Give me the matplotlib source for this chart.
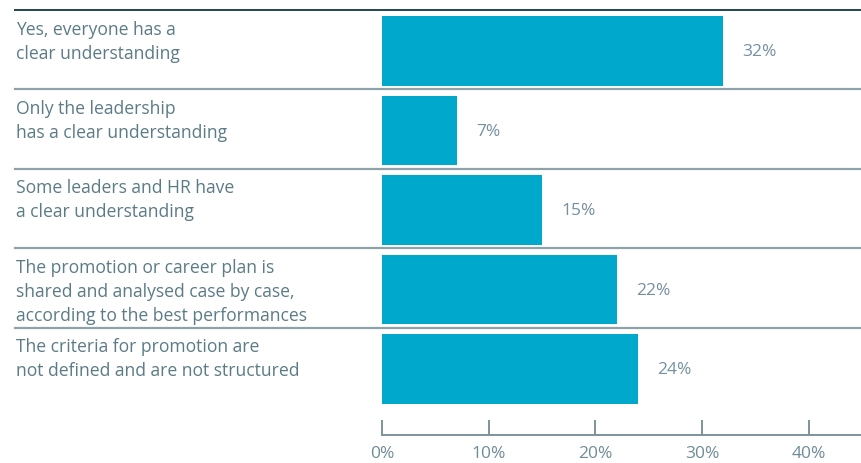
import numpy as np
import matplotlib
matplotlib.use("Agg")
import matplotlib.pyplot as plt
from matplotlib.transforms import blended_transform_factory

plt.rcParams['font.family'] = ['Open Sans', 'DejaVu Sans']

labels = [
    "Yes, everyone has a\nclear understanding",
    "Only the leadership\nhas a clear understanding",
    "Some leaders and HR have\na clear understanding",
    "The promotion or career plan is\nshared and analysed case by case,\naccording to the best performances",
    "The criteria for promotion are\nnot defined and are not structured",
]
values = [32, 7, 15, 22, 24]
ticks = [0, 10, 20, 30, 40]

bar_color = "#00a9cc"
text_color = "#5b7b87"
axis_color = "#7d939b"

fig = plt.figure(figsize=(8.61, 4.64), dpi=100)
# axes from the 0% line to the right edge, top rule down to the axis line
ax = fig.add_axes([382 / 861, (464 - 436) / 464, 1 - 382 / 861, (436 - 11) / 464])

y = np.arange(len(values))
ax.barh(y, values, height=0.88, color=bar_color, zorder=2)
ax.set_xlim(0, (861 - 382) / 10.67)
ax.set_ylim(4.83, -0.516)

for yi, v in zip(y, values):
    ax.text(v + 1.8, yi, f"{v}%", va="center", ha="left", fontsize=12.5,
            color="#7590a0")

# row separators and labels span the whole figure
tr = blended_transform_factory(fig.transFigure, ax.transData)
for i, lab in enumerate(labels):
    sep = i - 0.516 if i == 0 else i - 0.52
    ax.plot([15 / 861, 1], [sep, sep], transform=tr, clip_on=False,
            color="#1f4653" if i == 0 else "#8ea2a9", lw=1.4 if i == 0 else 1.6)
    ax.text(16 / 861, sep + 0.12, lab, transform=tr, va="top", ha="left",
            fontsize=12.65, color=text_color, linespacing=1.43)

for s in ["top", "right", "left"]:
    ax.spines[s].set_visible(False)
ax.spines["bottom"].set_color(axis_color)
ax.spines["bottom"].set_linewidth(1.4)
ax.set_yticks([])
ax.set_xticks(ticks)
ax.set_xticklabels([f"{t}%" for t in ticks])
ax.tick_params(axis="x", direction="in", length=11, width=1.4, color=axis_color,
               labelcolor="#6f8c97", labelsize=12.5, pad=7)

fig.savefig("out.png", dpi=100)
